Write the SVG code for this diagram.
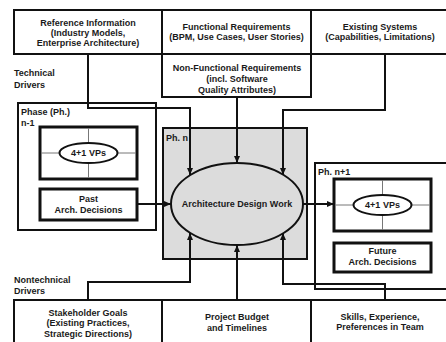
<svg xmlns="http://www.w3.org/2000/svg" width="446" height="342" viewBox="0 0 446 342">
  <defs>
    <marker id="arrow" viewBox="0 0 8 8" refX="8" refY="4" markerWidth="7" markerHeight="7" markerUnits="userSpaceOnUse" orient="auto">
      <path d="M0,0.6 L8,4 L0,7.4 Z" fill="#111"/>
    </marker>
  </defs>
  <style>
    text { font-family: "Liberation Sans", Arial, sans-serif; font-size: 9px; font-weight: bold; fill: #1a1a1a; }
    .c { text-anchor: middle; }
    .box { fill: #fff; stroke: #111; stroke-width: 2; }
    .thick { fill: #fff; stroke: #111; stroke-width: 3; }
    .phase { fill: #fff; stroke: #111; stroke-width: 2; }
    .current { fill: #dcdcdc; stroke: #111; stroke-width: 2; }
    .grid { stroke: #777; stroke-width: 1; }
    .vp { fill: #fff; stroke: #111; stroke-width: 2; }
    .conn { fill: none; stroke: #111; stroke-width: 2; }
  </style>
  <rect width="446" height="342" fill="#fff"/>

  <!-- technical drivers (top row) -->
  <g id="reference-information">
    <rect class="box" x="14" y="10" width="148" height="44"/>
    <text class="c" x="88" y="26">Reference Information</text>
    <text class="c" x="88" y="36">(Industry Models,</text>
    <text class="c" x="88" y="46">Enterprise Architecture)</text>
  </g>
  <g id="functional-requirements">
    <rect class="box" x="162" y="10" width="149" height="44"/>
    <text class="c" x="236.5" y="30">Functional Requirements</text>
    <text class="c" x="236.5" y="40">(BPM, Use Cases, User Stories)</text>
  </g>
  <g id="existing-systems">
    <rect class="box" x="311" y="10" width="140" height="44"/>
    <text class="c" x="380" y="30">Existing Systems</text>
    <text class="c" x="380" y="40">(Capabilities, Limitations)</text>
  </g>
  <g id="non-functional-requirements">
    <rect class="box" x="162" y="54" width="149" height="43"/>
    <text class="c" x="237" y="71">Non-Functional Requirements</text>
    <text class="c" x="237" y="82">(incl. Software</text>
    <text class="c" x="237" y="93">Quality Attributes)</text>
  </g>
  <g id="technical-drivers-label">
    <text x="14" y="76">Technical</text>
    <text x="14" y="88">Drivers</text>
  </g>

  <!-- previous phase -->
  <g id="phase-n-1">
    <rect class="phase" x="18" y="103" width="138" height="127"/>
    <text x="21" y="115">Phase (Ph.)</text>
    <text x="21" y="126">n-1</text>
    <g id="vp-n-1">
      <rect class="thick" x="40" y="127" width="97" height="52"/>
      <line class="grid" x1="88.5" y1="128" x2="88.5" y2="178"/>
      <line class="grid" x1="41" y1="153" x2="136" y2="153"/>
      <ellipse class="vp" cx="88.5" cy="153" rx="29" ry="10"/>
      <text class="c" x="88.5" y="156">4+1 VPs</text>
    </g>
    <g id="past-decisions">
      <rect class="thick" x="40" y="189" width="97" height="31"/>
      <text class="c" x="88.5" y="202">Past</text>
      <text class="c" x="88.5" y="213">Arch. Decisions</text>
    </g>
  </g>

  <!-- current phase -->
  <g id="phase-n">
    <rect class="current" x="163" y="128" width="144" height="131"/>
    <text x="166" y="141">Ph. n</text>
    <g id="design-work">
      <ellipse cx="237" cy="204" rx="66" ry="41" fill="#dcdcdc" stroke="#111" stroke-width="2"/>
      <text class="c" x="237" y="207">Architecture Design Work</text>
    </g>
  </g>

  <!-- next phase -->
  <g id="phase-n-plus-1">
    <rect class="phase" x="315" y="163" width="140" height="126"/>
    <text x="318" y="175">Ph. n+1</text>
    <g id="vp-n-plus-1">
      <rect class="thick" x="334" y="179" width="97" height="52"/>
      <line class="grid" x1="382.5" y1="180" x2="382.5" y2="230"/>
      <line class="grid" x1="335" y1="205" x2="430" y2="205"/>
      <ellipse class="vp" cx="382.5" cy="205" rx="29" ry="10"/>
      <text class="c" x="382.5" y="208">4+1 VPs</text>
    </g>
    <g id="future-decisions">
      <rect class="thick" x="334" y="243" width="97" height="29"/>
      <text class="c" x="382.5" y="254">Future</text>
      <text class="c" x="382.5" y="265">Arch. Decisions</text>
    </g>
  </g>

  <!-- nontechnical drivers (bottom row) -->
  <g id="nontechnical-drivers-label">
    <text x="14" y="283">Nontechnical</text>
    <text x="14" y="294">Drivers</text>
  </g>
  <g id="stakeholder-goals">
    <rect class="box" x="14" y="300" width="148" height="50"/>
    <text class="c" x="88" y="316">Stakeholder Goals</text>
    <text class="c" x="88" y="326">(Existing Practices,</text>
    <text class="c" x="88" y="337">Strategic Directions)</text>
  </g>
  <g id="project-budget">
    <rect class="box" x="162" y="300" width="149" height="50"/>
    <text class="c" x="237" y="320">Project Budget</text>
    <text class="c" x="237" y="331">and Timelines</text>
  </g>
  <g id="skills">
    <rect class="box" x="311" y="300" width="140" height="50"/>
    <text class="c" x="380" y="320">Skills, Experience,</text>
    <text class="c" x="380" y="330">Preferences in Team</text>
  </g>

  <!-- connectors -->
  <g id="connectors">
    <path class="conn" d="M88,54 V108 H190 V175" marker-end="url(#arrow)"/>
    <path class="conn" d="M237,97 V163" marker-end="url(#arrow)"/>
    <path class="conn" d="M385,54 V110 H283 V175" marker-end="url(#arrow)"/>
    <path class="conn" d="M137,204 H171" marker-end="url(#arrow)"/>
    <path class="conn" d="M303,204 H334" marker-end="url(#arrow)"/>
    <path class="conn" d="M88,300 V282 H190 V233" marker-end="url(#arrow)"/>
    <path class="conn" d="M237,300 V245" marker-end="url(#arrow)"/>
    <path class="conn" d="M385,300 V284 H283 V233" marker-end="url(#arrow)"/>
  </g>
</svg>
